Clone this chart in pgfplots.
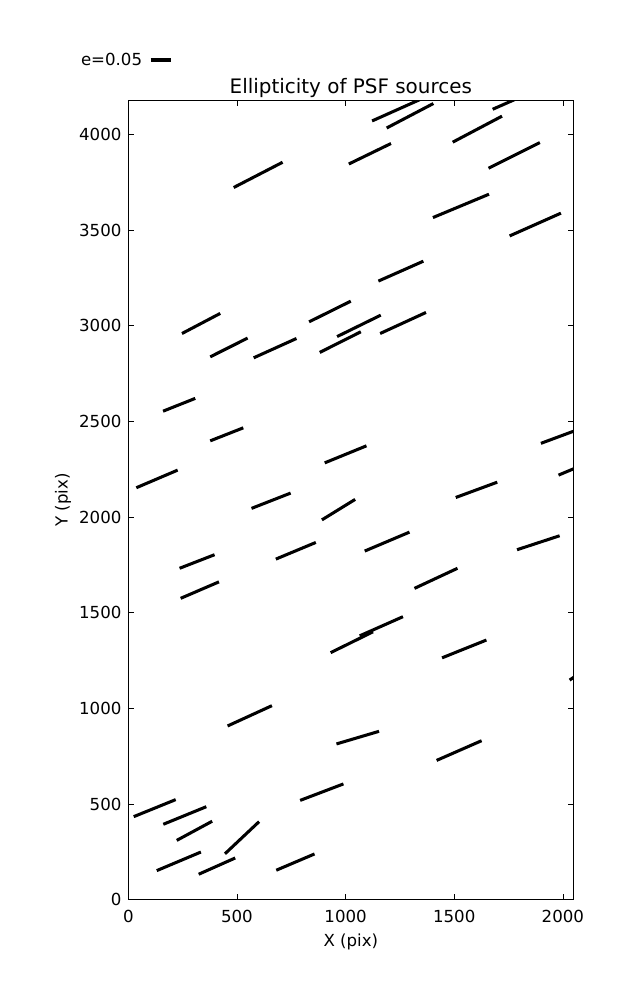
\documentclass[border=0pt]{standalone}
\usepackage{fontspec}
\setmainfont{DejaVu Sans}
\usepackage{pgfplots}
\pgfplotsset{compat=1.18}
\begin{document}
\begin{tikzpicture}
\begin{axis}[
  scale only axis, width=320.4bp, height=575.3bp,
  xmin=0, xmax=2048, ymin=0, ymax=4176,
  xtick={0,500,1000,1500,2000}, ytick={0,500,...,4000},
  minor tick num=0, scaled ticks=false,
  tick align=inside, major tick length=4bp,
  every tick/.style={black, line width=0.5bp},
  axis line style={line width=1bp},
  /pgf/number format/assume math mode=true,
  /pgf/number format/1000 sep={},
  tick label style={font=\fontsize{12}{14}\selectfont, inner sep=0pt},
  xticklabel shift=7.6bp, yticklabel shift=4.75bp,
  title={Ellipticity of PSF sources},
  every axis title shift=0pt,
  every axis title/.style={at={(0.5,1.0093)}, anchor=base, inner sep=0pt, font=\fontsize{14.4}{17}\selectfont},
  xlabel={X (pix)}, ylabel={Y (pix)},
  xlabel style={at={(0.5,-0.058)}, anchor=base, inner sep=0pt, font=\fontsize{12}{14}\selectfont},
  ylabel style={at={(-0.1366,0.5)}, anchor=base, inner sep=0pt, font=\fontsize{12}{14}\selectfont},
  unbounded coords=jump,
  legend plot pos=right,
  legend image code/.code={\draw[#1] (0bp,0bp) -- (14.4bp,0bp);},
  legend style={at={(-0.1063,1.0509)}, anchor=west, draw=none, fill=none, inner sep=0pt, outer sep=0pt,
    font=\fontsize{12}{14}\selectfont, nodes={inner sep=0pt}, column sep=5bp},
]
\addplot[black, line width=2.2bp] coordinates {
(1122,4070) (1341,4181) (nan,nan)
(1189,4033) (1404,4161) (nan,nan)
(1677,4131) (1783,4184) (nan,nan)
(1493,3959) (1720,4095) (nan,nan)
(1015,3845) (1209,3952) (nan,nan)
(1658,3823) (1894,3957) (nan,nan)
(485,3722) (710,3854) (nan,nan)
(1402,3565) (1660,3687) (nan,nan)
(1755,3469) (1991,3588) (nan,nan)
(1151,3233) (1358,3337) (nan,nan)
(247,2959) (423,3064) (nan,nan)
(377,2837) (549,2935) (nan,nan)
(577,2832) (774,2933) (nan,nan)
(832,3020) (1024,3128) (nan,nan)
(961,2943) (1162,3055) (nan,nan)
(881,2860) (1070,2968) (nan,nan)
(1159,2959) (1370,3069) (nan,nan)
(160,2553) (308,2620) (nan,nan)
(377,2398) (529,2466) (nan,nan)
(37,2153) (227,2245) (nan,nan)
(904,2283) (1096,2372) (nan,nan)
(1899,2385) (2077,2460) (nan,nan)
(1980,2219) (2077,2265) (nan,nan)
(1507,2102) (1698,2182) (nan,nan)
(567,2045) (747,2125) (nan,nan)
(891,1985) (1044,2092) (nan,nan)
(236,1732) (397,1803) (nan,nan)
(241,1575) (417,1661) (nan,nan)
(679,1780) (863,1867) (nan,nan)
(931,1291) (1126,1400) (nan,nan)
(1065,1379) (1264,1479) (nan,nan)
(1088,1822) (1294,1921) (nan,nan)
(1789,1829) (1985,1902) (nan,nan)
(1317,1627) (1515,1732) (nan,nan)
(1444,1264) (1648,1357) (nan,nan)
(2031,1148) (2077,1182) (nan,nan)
(457,908) (661,1014) (nan,nan)
(958,814) (1154,880) (nan,nan)
(1419,728) (1626,831) (nan,nan)
(791,519) (990,605) (nan,nan)
(25,434) (218,523) (nan,nan)
(161,394) (359,486) (nan,nan)
(223,310) (386,410) (nan,nan)
(445,240) (602,408) (nan,nan)
(131,152) (334,249) (nan,nan)
(324,133) (492,218) (nan,nan)
(681,154) (857,239)
};
\addlegendentry{e=0.05}
\end{axis}
\path (current axis.south west) ++(-92.38bp,-72.22bp) rectangle ++(458.64bp,720bp);
\end{tikzpicture}
\end{document}
